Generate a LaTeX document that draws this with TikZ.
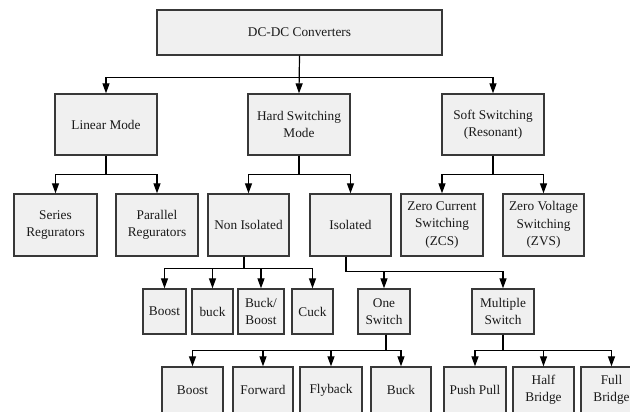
\documentclass[tikz,border=0pt]{standalone}
\usepackage{fontspec}
\setmainfont{Liberation Serif}
\usetikzlibrary{arrows.meta}
\definecolor{boxfill}{HTML}{F0F0F0}
\definecolor{boxline}{HTML}{383838}
\tikzset{
  blk/.style={draw=boxline, fill=boxfill, line width=1.3pt, inner sep=0pt,
    align=center, text=black!90, font=\fontsize{13.3}{17.5}\selectfont},
  lnk/.style={line width=1.2pt, -{Triangle[length=10pt,width=7pt]}},
}
\begin{document}
\begin{tikzpicture}[x=1pt,y=-1pt]
            \useasboundingbox (0,0) rectangle (630,412);
            \clip (0,0) rectangle (630,412);
            
            % Drawing box level 1
            \node [blk, minimum width=285pt, minimum height=45pt] (dcdc) at (299.5,32.5) {DC-DC Converters};%
            
            % Drawing boxes level 2
            \node [blk, minimum width=102pt, minimum height=61pt] (linear) at (106,124.5) {Linear Mode};%
            \node [blk, minimum width=102pt, minimum height=61pt] (hard) at (299,124.5) {Hard Switching\\Mode};%
            \node [blk, minimum width=102pt, minimum height=61pt] (soft) at (493,124.5) {Soft Switching\\(Resonant)};%
            
            % Drawing boxes level 3
            \node [blk, minimum width=83pt, minimum height=62pt] (series) at (55.5,225) {Series\\Regurators};%
            \node [blk, minimum width=82pt, minimum height=62pt] (parallel) at (157,225) {Parallel\\Regurators};%
            \node [blk, minimum width=81pt, minimum height=62pt] (noniso) at (248.5,225) {Non Isolated};%
            \node [blk, minimum width=81pt, minimum height=62pt] (iso) at (350.5,225) {Isolated};%
            \node [blk, minimum width=82pt, minimum height=62pt] (zcs) at (442,225) {Zero Current\\Switching\\(ZCS)};%
            \node [blk, minimum width=81pt, minimum height=62pt] (zvs) at (543.5,225) {Zero Voltage\\Switching\\(ZVS)};%
            
            % Drawing boxes level 4
            \node [blk, minimum width=43pt, minimum height=45pt] (boost) at (164.5,311.5) {Boost};%
            \node [blk, minimum width=41pt, minimum height=45pt] (buck) at (212.5,311.5) {buck};%
            \node [blk, minimum width=46pt, minimum height=45pt] (buckboost) at (261,311.5) {Buck/\\Boost};%
            \node [blk, minimum width=41pt, minimum height=45pt] (cuck) at (312.5,311.5) {Cuck};%
            \node [blk, minimum width=52pt, minimum height=45pt] (one) at (384,311.5) {One\\Switch};%
            \node [blk, minimum width=62pt, minimum height=45pt] (multi) at (503,311.5) {Multiple\\Switch};%
            
            % Drawing boxes level 5
            \node [blk, minimum width=61pt, minimum height=46pt] (boostone) at (192.5,390) {Boost};%
            \node [blk, minimum width=60pt, minimum height=46pt] (forward) at (263,390) {Forward};%
            \node [blk, minimum width=62pt, minimum height=46pt] (flyback) at (331,390) {Flyback};%
            \node [blk, minimum width=60pt, minimum height=46pt] (buckone) at (401,390) {Buck};%
            \node [blk, minimum width=62pt, minimum height=46pt] (push) at (475,390) {Push Pull};%
            \node [blk, minimum width=61pt, minimum height=46pt] (half) at (543.5,390) {Half\\Bridge};%
            \node [blk, minimum width=61pt, minimum height=46pt] (full) at (611.5,390) {Full\\Bridge};%
            
            % Drawing connectors from DC-DC Converters
            \draw [lnk] (dcdc.south) -- ++(0,22) -| (linear.north);%
            \draw [lnk] (dcdc.south) -- (hard.north);%
            \draw [lnk] (dcdc.south) -- ++(0,22) -| (soft.north);%
            
            % Drawing connectors from level 2
            \draw [lnk] (linear.south) -- ++(0,19) -| (series.north);%
            \draw [lnk] (linear.south) -- ++(0,19) -| (parallel.north);%
            \draw [lnk] (hard.south) -- ++(0,19) -| (noniso.north);%
            \draw [lnk] (hard.south) -- ++(0,19) -| (iso.north);%
            \draw [lnk] (soft.south) -- ++(0,19) -| (zcs.north);%
            \draw [lnk] (soft.south) -- ++(0,19) -| (zvs.north);%
            
            % Drawing connectors from Non Isolated
            \draw [lnk] ([xshift=-4.5pt]noniso.south) -- ++(0,12) -| (boost.north);%
            \draw [lnk] ([xshift=-4.5pt]noniso.south) -- ++(0,12) -| (buck.north);%
            \draw [lnk] ([xshift=-4.5pt]noniso.south) -- ++(0,12) -| (buckboost.north);%
            \draw [lnk] ([xshift=-4.5pt]noniso.south) -- ++(0,12) -| (cuck.north);%
            
            % Drawing connectors from Isolated
            \draw [lnk] ([xshift=-4.5pt]iso.south) -- ++(0,15) -| (one.north);%
            \draw [lnk] ([xshift=-4.5pt]iso.south) -- ++(0,15) -| (multi.north);%
            
            % Drawing connectors from One Switch
            \draw [lnk] ([xshift=2pt]one.south) -- ++(0,16) -| (boostone.north);%
            \draw [lnk] ([xshift=2pt]one.south) -- ++(0,16) -| (forward.north);%
            \draw [lnk] ([xshift=2pt]one.south) -- ++(0,16) -| (flyback.north);%
            \draw [lnk] ([xshift=2pt]one.south) -- ++(0,16) -| (buckone.north);%
            
            % Drawing connectors from Multiple Switch
            \draw [lnk] (multi.south) -- ++(0,16) -| (push.north);%
            \draw [lnk] (multi.south) -- ++(0,16) -| (half.north);%
            \draw [lnk] (multi.south) -- ++(0,16) -| (full.north);%
        \end{tikzpicture}
\end{document}
